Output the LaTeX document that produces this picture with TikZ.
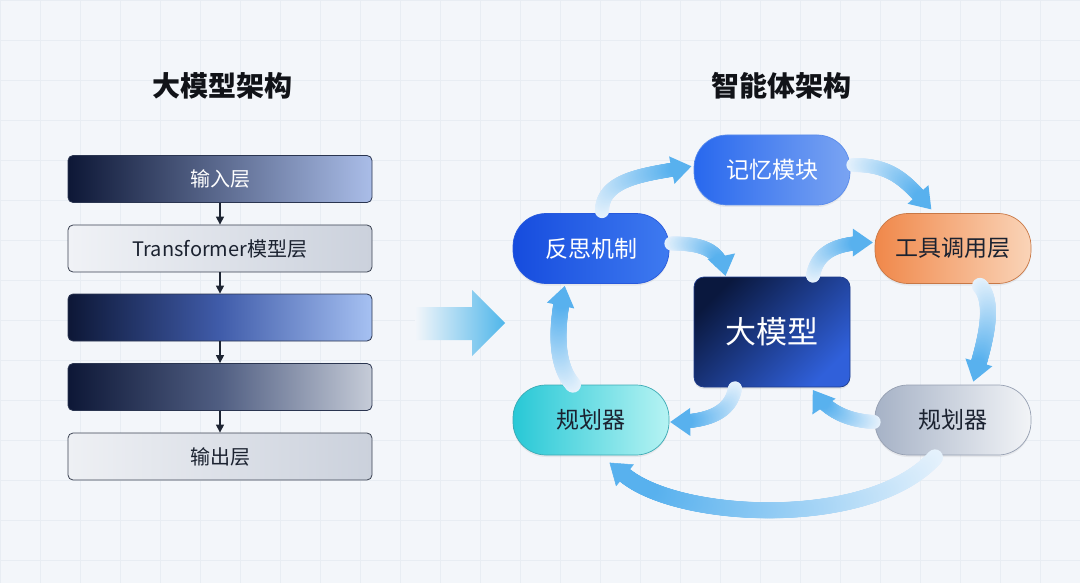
\documentclass[tikz,border=0pt]{standalone}
\usepackage{fontspec}
\setmainfont{Noto Sans CJK SC}
\usetikzlibrary{arrows.meta,decorations.markings,calc,shadows}
\definecolor{bg}{HTML}{F3F6FA}
\definecolor{gridc}{HTML}{E8EDF3}
\definecolor{navy}{HTML}{0D1736}
\definecolor{titlec}{HTML}{111318}
\definecolor{darkline}{HTML}{2A3550}
\definecolor{grayline}{HTML}{3B4252}
\definecolor{txtdark}{HTML}{1B2230}
\definecolor{flowlo}{HTML}{E6F2FC}
\definecolor{flowhi}{HTML}{58B1EE}
\definecolor{arrowdark}{HTML}{1E2533}
\tikzset{
  layer/.style={rounded corners=5pt, minimum width=304pt, minimum height=47pt,
    line width=0.8pt, font=\fontsize{20}{24}\selectfont},
  agent/.style={rounded corners=33pt, minimum width=156pt, minimum height=70pt,
    line width=0.7pt, font=\fontsize{23}{27}\selectfont,
    drop shadow={opacity=0.12, shadow xshift=0pt, shadow yshift=-2pt}},
  titletext/.style={font=\fontsize{28}{32}\selectfont\bfseries, text=titlec},
  stackarrow/.style={-{Triangle[width=8pt,length=8pt]}, line width=1.2pt, draw=arrowdark},
  flow/.style={
    decoration={markings,
      mark=between positions 0 and 1 step 0.8pt with {%
        \pgfmathsetmacro\fdist{\pgfkeysvalueof{/pgf/decoration/mark info/distance from start}}%
        \pgfmathsetmacro\flen{\pgfdecoratedpathlength-16}%
        \pgfmathsetmacro\fpct{min(100,max(0,(\fdist/\flen)*100))}%
        \pgfmathparse{\fdist<\flen?1:0}%
        \ifdim\pgfmathresult pt>0.5pt
          \fill[flowhi!\fpct!flowlo] (0pt,0pt) circle (#1);
        \fi},
      mark=at position 0.99 with {\fill[flowhi] (-20pt,14pt) -- (0pt,0pt) -- (-20pt,-14pt) -- cycle;}
    }, decorate},
  flow/.default=7pt,
  flowband/.style={
    decoration={markings,
      mark=between positions 0 and 1 step 0.8pt with {%
        \pgfmathsetmacro\fdist{\pgfkeysvalueof{/pgf/decoration/mark info/distance from start}}%
        \pgfmathsetmacro\flen{\pgfdecoratedpathlength-30}%
        \pgfmathsetmacro\fpct{min(100,max(0,(\fdist/\flen)*100))}%
        \fill[flowhi!\fpct!flowlo] (0pt,0pt) circle (#1);}
    }, decorate},
  flowband/.default=8pt,
  flowtip/.style={draw=flowhi, line width=0.5pt, -{Triangle[width=28pt,length=20pt]}}
}
\begin{document}
\begin{tikzpicture}[x=1pt,y=-1pt]
\useasboundingbox (0,0) rectangle (1080,583);
\fill[bg] (0,0) rectangle (1080,583);
\foreach \gx in {0,40,...,1080} \draw[gridc, line width=0.6pt] (\gx,0) -- (\gx,583);
\foreach \gy in {0,40,...,560} \draw[gridc, line width=0.6pt] (0,\gy) -- (1080,\gy);

% titles
\node[titletext] (t1) at (222,86) {大模型架构};
\node[titletext] (t2) at (781,86) {智能体架构};

% left stack
\node[layer, draw=darkline, left color=navy, right color={rgb,255:red,170;green,189;blue,232}, text=white] (b1) at (220,179) {输入层};
\node[layer, draw=grayline, left color={rgb,255:red,240;green,242;blue,246}, right color={rgb,255:red,203;green,209;blue,220}, text=txtdark] (b2) at (220,248.5) {Transformer模型层};
\node[layer, draw=darkline, left color=navy, right color={rgb,255:red,166;green,193;blue,242}, middle color={rgb,255:red,64;green,92;blue,170}] (b3) at (220,317.5) {};
\node[layer, draw=darkline, left color=navy, right color={rgb,255:red,198;green,204;blue,216}, middle color={rgb,255:red,80;green,94;blue,130}] (b4) at (220,387) {};
\node[layer, draw=grayline, left color={rgb,255:red,238;green,240;blue,244}, right color={rgb,255:red,203;green,209;blue,220}, text=txtdark] (b5) at (220,456.5) {输出层};
\draw[stackarrow] (b1.south) -- (b2.north);
\draw[stackarrow] (b2.south) -- (b3.north);
\draw[stackarrow] (b3.south) -- (b4.north);
\draw[stackarrow] (b4.south) -- (b5.north);

% big arrow
\shade[left color=bg, right color={rgb,255:red,79;green,182;blue,234}]
  (415,307) -- (472,307) -- (472,290) -- (505,323) -- (472,356) -- (472,340) -- (415,340) -- cycle;

% right diagram nodes
\node[agent, draw={rgb,255:red,90;green,140;blue,235}, left color={rgb,255:red,40;green,104;blue,238}, right color={rgb,255:red,122;green,164;blue,242}, text=white] (mem) at (772,170) {记忆模块};
\node[agent, draw={rgb,255:red,40;green,90;blue,220}, left color={rgb,255:red,22;green,76;blue,222}, right color={rgb,255:red,62;green,122;blue,240}, text=white] (ref) at (591,248.5) {反思机制};
\node[agent, draw={rgb,255:red,200;green,120;blue,70}, left color={rgb,255:red,240;green,136;blue,74}, right color={rgb,255:red,250;green,212;blue,184}, text=txtdark] (tool) at (953,248.5) {工具调用层};
\node[rounded corners=10pt, minimum width=156pt, minimum height=110pt, line width=0.7pt,
  draw={rgb,255:red,30;green,60;blue,140}, top color={rgb,255:red,10;green,24;blue,62}, bottom color={rgb,255:red,48;green,96;blue,218}, shading angle=45,
  text=white, font=\fontsize{31}{35}\selectfont, drop shadow={opacity=0.15, shadow xshift=0pt, shadow yshift=-2pt}] (llm) at (772,332) {大模型};
\node[agent, draw={rgb,255:red,60;green,170;blue,180}, left color={rgb,255:red,40;green,200;blue,214}, right color={rgb,255:red,182;green,243;blue,243}, text=txtdark] (planL) at (591,420) {规划器};
\node[agent, draw={rgb,255:red,150;green,160;blue,178}, left color={rgb,255:red,166;green,178;blue,198}, right color={rgb,255:red,242;green,244;blue,247}, text=txtdark] (planR) at (953,420) {规划器};

% flow arrows
\path[flow] ($(ref.north)+(11,-2)$) .. controls +(0,-35) and +(-40,8) .. ($(mem.west)+(-1,-4)$);
\path[flow] ($(mem.east)+(3,-5)$) .. controls +(40,0) and +(-25,-28) .. ($(tool.north)+(-21,-3)$);
\path[flow=8pt] ($(tool.south)+(27,2)$) .. controls +(18,20) and +(8,-28) .. ($(planR.north)+(20,-2)$);
\coordinate (e4) at ($(planL.south)+(34,20)$);
\coordinate (t4) at ($(e4)+(-15.5,-12.7)$);
\path[flowband=8pt] ($(planR.south)+(-18,2)$) .. controls +(-65,72) and +(55,45) .. (e4);
\draw[flowtip] (e4) -- (t4);
\path[flow=8pt] ($(planL.north)+(-18,0)$) .. controls +(-22,-25) and +(-6,28) .. ($(ref.south)+(-26,1)$);
\path[flow] ($(ref.east)+(2,-5)$) .. controls +(35,0) and +(-5,-25) .. ($(llm.north west)+(32,0)$);
\path[flow] ($(llm.north)+(41,-1)$) .. controls +(5,-28) and +(-30,0) .. ($(tool.west)+(-1,-6)$);
\path[flow] ($(llm.south)+(-37,1)$) .. controls +(-5,28) and +(32,0) .. ($(planL.east)+(0,2)$);
\path[flow] ($(planR.west)+(-1,2)$) .. controls +(-35,-2) and +(10,15) .. ($(llm.south east)+(-38,2)$);
\end{tikzpicture}
\end{document}
